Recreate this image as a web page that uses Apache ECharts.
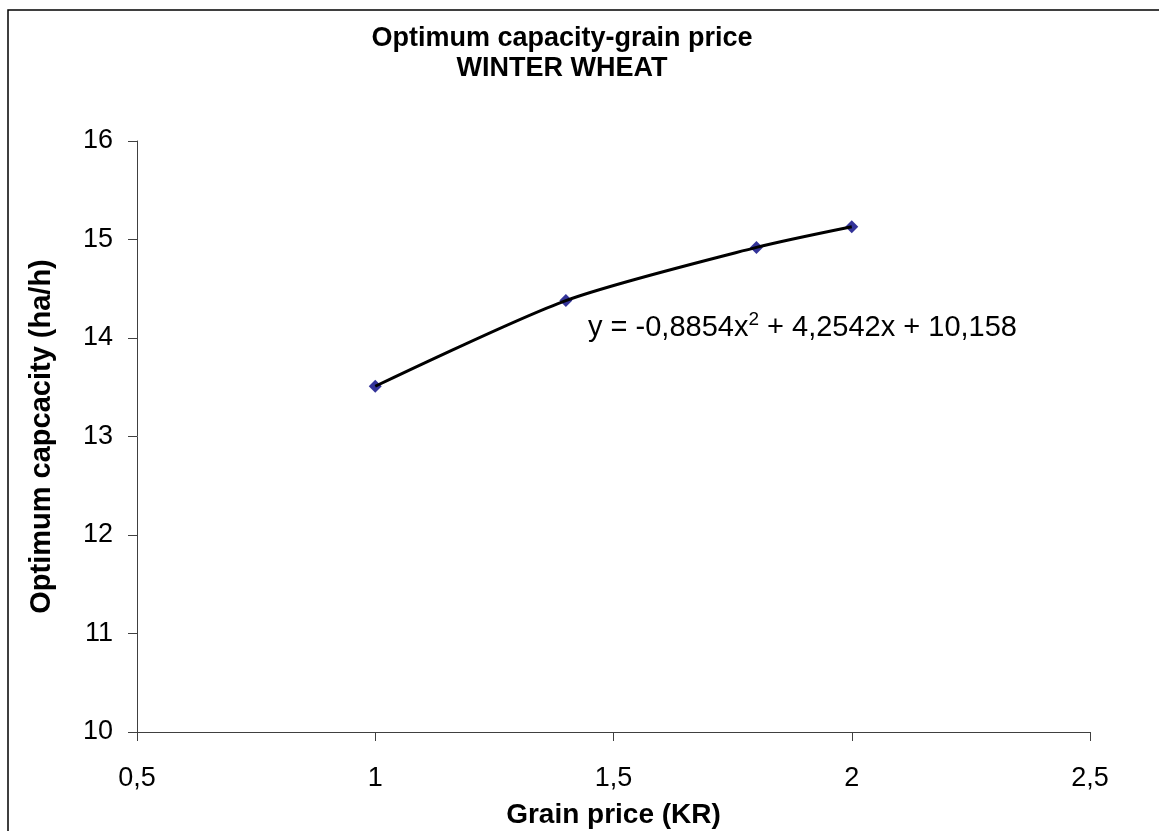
<!DOCTYPE html>
<html>
<head>
<meta charset="utf-8">
<script src="https://cdn.jsdelivr.net/npm/echarts@6/dist/echarts.min.js"></script>
<style>
html,body{margin:0;padding:0;background:#fff;}
#chart{width:1159px;height:831px;}
</style>
</head>
<body>
<div id="chart"></div>
<script>
const titleLines = ['Optimum capacity-grain price', 'WINTER WHEAT'];
const xAxisName = 'Grain price (KR)';
const yAxisName = 'Optimum capcacity (ha/h)';
const grainPrice = [1, 1.4, 1.8, 2];
const optimumCapacity = [13.51, 14.38, 14.92, 15.13];
const equationText = 'y = -0,8854x{sup|2} + 4,2542x + 10,158';

const points = grainPrice.map((x, i) => [x, optimumCapacity[i]]);
const fmt = v => String(v).replace('.', ',');
const FONT = 'Liberation Sans, Arial, sans-serif';

const chart = echarts.init(document.getElementById('chart'), null, {renderer: 'canvas'});
chart.setOption({
  animation: false,
  backgroundColor: '#fff',
  title: {
    text: titleLines.join('\n'),
    left: 557, top: 19, textAlign: 'center',
    textStyle: {fontFamily: FONT, fontWeight: 'bold', fontSize: 27, lineHeight: 30, color: '#000'}
  },
  grid: {left: 137, right: 69, top: 141, bottom: 99, containLabel: false, outerBoundsMode: 'none'},
  xAxis: {
    type: 'value', min: 0.5, max: 2.5, interval: 0.5,
    name: xAxisName, nameLocation: 'middle', nameGap: 69,
    nameTextStyle: {fontFamily: FONT, fontWeight: 'bold', fontSize: 28, color: '#000'},
    axisLine: {show: true, lineStyle: {color: '#404040', width: 1}},
    axisTick: {show: true, inside: false, length: 9, lineStyle: {color: '#404040'}},
    axisLabel: {fontFamily: FONT, fontSize: 27, color: '#000', margin: 33, formatter: fmt},
    splitLine: {show: false}
  },
  yAxis: {
    type: 'value', min: 10, max: 16, interval: 1,
    name: yAxisName, nameLocation: 'middle', nameGap: 81, nameRotate: 90,
    nameTextStyle: {fontFamily: FONT, fontWeight: 'bold', fontSize: 29, color: '#000'},
    axisLine: {show: true, lineStyle: {color: '#404040', width: 1}},
    axisTick: {show: true, inside: false, length: 9, lineStyle: {color: '#404040'}},
    axisLabel: {fontFamily: FONT, fontSize: 27, color: '#000', margin: 24, formatter: fmt},
    splitLine: {show: false}
  },
  series: [
    {
      type: 'scatter', data: points, symbol: 'diamond', symbolSize: 13,
      itemStyle: {color: '#000080'}, z: 2
    },
    {
      type: 'line', data: points, smooth: 0.25, showSymbol: false, symbol: 'none',
      lineStyle: {color: '#000', width: 3}, z: 3
    }
  ],
  graphic: [
    {type: 'rect', shape: {x: 8, y: 10, width: 1300, height: 1000},
     style: {fill: 'none', stroke: '#000', lineWidth: 1.5}, silent: true, z: -1},
    {type: 'text', left: 588, top: 310,
     style: {text: equationText, fontFamily: FONT, fontSize: 29, fill: '#000',
       rich: {sup: {fontFamily: FONT, fontSize: 19, verticalAlign: 'top', padding: [0,0,16,0]}}}}
  ]
});
</script>
</body>
</html>
